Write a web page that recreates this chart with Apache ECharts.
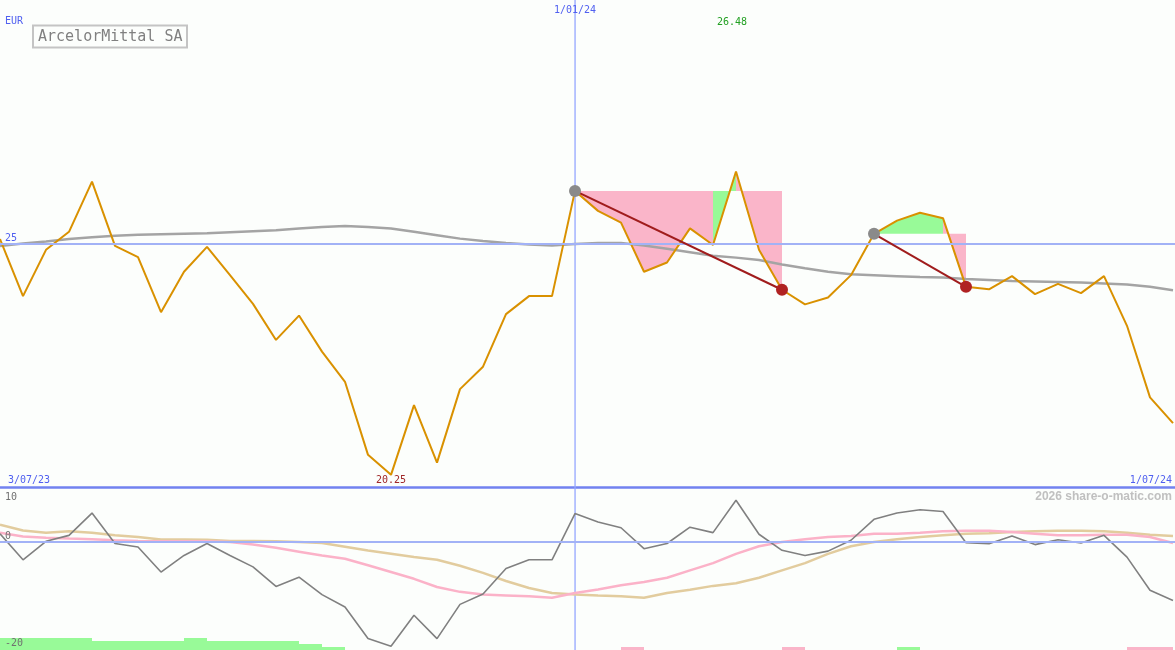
<!DOCTYPE html>
<html><head><meta charset="utf-8">
<script src="https://cdn.jsdelivr.net/npm/echarts@6/dist/echarts.min.js"></script>
<style>html,body{margin:0;padding:0;background:#fcfefc}#c{width:1175px;height:650px}</style>
</head><body><div id="c"></div>
<script>
// ---- data (weekly, index 0 = 3/07/23) ----
const price = [25.09, 23.92, 24.87, 25.24, 26.27, 24.95, 24.72, 23.59, 24.42, 24.93,
  24.35, 23.76, 23.02, 23.52, 22.78, 22.16, 20.66, 20.25, 21.68, 20.50,
  22.01, 22.47, 23.55, 23.92, 23.92, 26.08, 25.67, 25.43, 24.42, 24.61,
  25.31, 24.97, 26.48, 24.87, 24.05, 23.75, 23.89, 24.35, 25.20, 25.47,
  25.63, 25.52, 24.11, 24.06, 24.33, 23.96, 24.17, 23.98, 24.33, 23.31,
  21.84, 21.31];
const priceMA = [24.95, 25.00, 25.04, 25.09, 25.13, 25.16, 25.18, 25.19, 25.20, 25.21,
  25.23, 25.25, 25.27, 25.31, 25.34, 25.36, 25.34, 25.31, 25.24, 25.17,
  25.10, 25.05, 25.01, 24.98, 24.96, 24.99, 25.01, 25.01, 24.96, 24.89,
  24.82, 24.75, 24.71, 24.66, 24.57, 24.49, 24.42, 24.37, 24.35, 24.33,
  24.31, 24.30, 24.27, 24.25, 24.23, 24.22, 24.21, 24.20, 24.18, 24.16,
  24.11, 24.04];
const osc = [1.4, -3.4, 0, 1.1, 5.2, -0.4, -1.05, -5.65, -2.6, -0.4,
  -2.6, -4.7, -8.3, -6.6, -9.8, -12.1, -17.9, -19.3, -13.6, -17.9,
  -11.6, -9.7, -5.0, -3.4, -3.4, 5.1, 3.55, 2.5, -1.35, -0.4,
  2.6, 1.6, 7.55, 1.3, -1.65, -2.6, -1.8, 0.2, 4.05, 5.2,
  5.8, 5.5, -0.25, -0.45, 1.0, -0.6, 0.3, -0.3, 1.1, -2.9,
  -9.0, -10.9];
const oscFast = [1.6, 0.9, 0.65, 0.5, 0.4, 0.2, 0.05, 0, 0, 0,
  -0.13, -0.6, -1.2, -1.9, -2.6, -3.2, -4.4, -5.65, -6.9, -8.4,
  -9.3, -9.8, -9.95, -10.1, -10.4, -9.5, -8.85, -8.1, -7.5, -6.7,
  -5.35, -4.0, -2.3, -0.9, -0.13, 0.37, 0.8, 0.98, 1.4, 1.4,
  1.6, 1.84, 1.96, 1.96, 1.7, 1.4, 1.1, 1.1, 1.22, 1.22,
  0.8, -0.3];
const oscSlow = [3.05, 2.0, 1.6, 1.85, 1.6, 1.1, 0.8, 0.35, 0.35, 0.3,
  0.05, 0.05, 0, -0.1, -0.3, -1.0, -1.7, -2.3, -2.9, -3.4,
  -4.5, -5.8, -7.3, -8.6, -9.5, -9.77, -9.95, -10.1, -10.4, -9.5,
  -8.9, -8.2, -7.7, -6.7, -5.35, -4.0, -2.3, -0.9, -0.13, 0.37,
  0.8, 1.1, 1.4, 1.5, 1.7, 1.84, 1.96, 1.96, 1.84, 1.6,
  1.2, 1.0];
const greenBars = [[0,4],[1,4],[2,4],[3,4],[4,3],[5,3],[6,3],[7,3],[8,4],[9,3],[10,3],[11,3],[12,3],[13,2],[14,1],[39,1]];
const pinkBars = [[27,1],[34,1],[49,1],[50,1]];
const tradeEntry = [25, 38];
const tradeExit = [34, 42];
const greenSegments = [31, 38, 39, 40];
const dateLabels = ['3/07/23', '1/01/24', '1/07/24'];
const dateMidIndex = 25;
const mainTick = 25;
const lowerTicks = [10, 0, -20];
const title = 'ArcelorMittal SA';
const currency = 'EUR';
const credit = '2026 share-o-matic.com';

// ---- layout ----
const W = 1175, H = 650, MAIN_H = 487, LOW_H = 163, STEP = 23;
const X_MAX = W / STEP;
const FONT = '"DejaVu Sans Mono", "Liberation Mono", monospace';
const BLUE = '#5060f0', LBLUE = '#a2b2f6';

const chart = echarts.init(document.getElementById('c'), null, {renderer: 'canvas'});
const xy = a => a.map((v, i) => [i, v]);

const fillData = [];
tradeEntry.forEach((e, k) => {
  for (let i = e; i < tradeExit[k]; i++) fillData.push([i, i + 1, price[e], greenSegments.includes(i) ? 1 : 0]);
});
const tradeLines = tradeEntry.map((e, k) => [e, price[e], tradeExit[k], price[tradeExit[k]]]);

const barSeries = (data, color) => ({
  type: 'custom', xAxisIndex: 1, yAxisIndex: 2, z: 1, silent: true, data,
  renderItem: (p, api) => {
    const i = api.value(0), h = api.value(1);
    const a = api.coord([i, 0]), b = api.coord([i + 1, h]);
    return {type: 'rect', shape: {x: a[0], y: b[1], width: b[0] - a[0], height: a[1] - b[1]}, style: {fill: color}};
  }
});

chart.setOption({
  animation: false,
  backgroundColor: '#fcfefc',
  grid: [
    {left: 0, right: 0, top: 0, height: MAIN_H},
    {left: 0, right: 0, top: MAIN_H, height: LOW_H}
  ],
  xAxis: [
    {type: 'value', gridIndex: 0, min: 0, max: X_MAX, axisLabel: {show: false}, axisTick: {show: false}, splitLine: {show: false},
      axisLine: {show: true, onZero: false, lineStyle: {color: '#7282f0', width: 2.5}}},
    {type: 'value', gridIndex: 1, min: 0, max: X_MAX, show: false}
  ],
  yAxis: [
    {type: 'value', gridIndex: 0, min: 20, max: 30, show: false},
    {type: 'value', gridIndex: 1, min: -20, max: 10, show: false},
    {type: 'value', gridIndex: 1, min: 0, max: LOW_H / 3, show: false}
  ],
  series: [
    {type: 'line', xAxisIndex: 0, yAxisIndex: 0, data: [], z: 1, silent: true,
      markLine: {silent: true, symbol: 'none', label: {show: false}, animation: false,
        lineStyle: {color: LBLUE, width: 2, type: 'solid'},
        data: [{yAxis: mainTick}]}},
    {type: 'custom', xAxisIndex: 0, yAxisIndex: 0, z: 2, silent: true, data: fillData, clip: true,
      renderItem: (p, api) => {
        const i0 = api.value(0), i1 = api.value(1), lvl = api.value(2), g = api.value(3);
        const pts = [api.coord([i0, lvl]), api.coord([i0, price[i0]]), api.coord([i1, price[i1]]), api.coord([i1, lvl])];
        return {type: 'polygon', shape: {points: pts}, style: {fill: g ? '#98fa98' : '#fab5c9', stroke: null}};
      }},
    {type: 'line', xAxisIndex: 0, yAxisIndex: 0, z: 3, data: xy(priceMA), showSymbol: false, silent: true,
      lineStyle: {color: '#a4a4a4', width: 2.5}},
    {type: 'line', xAxisIndex: 0, yAxisIndex: 0, z: 4, data: xy(price), showSymbol: false, silent: true,
      lineStyle: {color: '#d99100', width: 2}},
    {type: 'custom', xAxisIndex: 0, yAxisIndex: 0, z: 5, silent: true, data: tradeLines,
      renderItem: (p, api) => {
        const a = api.coord([api.value(0), api.value(1)]), b = api.coord([api.value(2), api.value(3)]);
        return {type: 'line', shape: {x1: a[0], y1: a[1], x2: b[0], y2: b[1]}, style: {stroke: '#a01c1c', lineWidth: 2}};
      }},
    {type: 'scatter', xAxisIndex: 0, yAxisIndex: 0, z: 6, silent: true, symbolSize: 12,
      data: tradeEntry.map(i => [i, price[i]]), itemStyle: {color: '#8a8a8a', opacity: 1}},
    {type: 'scatter', xAxisIndex: 0, yAxisIndex: 0, z: 6, silent: true, symbolSize: 12,
      data: tradeExit.map(i => [i, price[i]]), itemStyle: {color: '#b02222', opacity: 1}},
    // lower panel
    {type: 'line', xAxisIndex: 1, yAxisIndex: 1, data: [], z: 1, silent: true,
      markLine: {silent: true, symbol: 'none', label: {show: false}, animation: false,
        lineStyle: {color: LBLUE, width: 2, type: 'solid'},
        data: [{yAxis: 0}]}},
    barSeries(greenBars, '#98fa98'),
    barSeries(pinkBars, '#fab5c9'),
    {type: 'line', xAxisIndex: 1, yAxisIndex: 1, z: 3, data: xy(oscSlow), showSymbol: false, silent: true,
      lineStyle: {color: '#e2cc9e', width: 2.5}},
    {type: 'line', xAxisIndex: 1, yAxisIndex: 1, z: 3, data: xy(oscFast), showSymbol: false, silent: true,
      lineStyle: {color: '#fbb2c8', width: 2.5}},
    {type: 'line', xAxisIndex: 1, yAxisIndex: 1, z: 4, data: xy(osc), showSymbol: false, silent: true,
      lineStyle: {color: '#808080', width: 1.6}}
  ]
});

// ---- text labels and date cursor placed via the chart's own scales ----
const p0 = v => chart.convertToPixel({xAxisIndex: 0, yAxisIndex: 0}, v);
const p1 = v => chart.convertToPixel({xAxisIndex: 1, yAxisIndex: 1}, v);
const txt = (text, x, y, color, align, size, extra) => ({
  type: 'text', x, y: y + 1, silent: true, z: 100,
  style: Object.assign({text, fill: color, font: (size || 10) + 'px ' + FONT, textAlign: align || 'left', textVerticalAlign: 'middle'}, extra || {})
});
const maxI = price.indexOf(Math.max(...price));
const minI = price.indexOf(Math.min(...price));
const cursorX = Math.round(p0([dateMidIndex, 25])[0]);
const elements = [
  {type: 'rect', silent: true, z: 1, shape: {x: cursorX - 0.6, y: 0, width: 1.3, height: H},
    style: {fill: '#94a6ff'}},
  txt(currency, 5, 20, BLUE),
  txt(String(mainTick), 5, p0([0, mainTick])[1] - 6, BLUE),
  txt(dateLabels[1], p0([dateMidIndex, 30])[0], 9, BLUE, 'center'),
  txt(price[maxI].toFixed(2), p0([maxI, 30])[0] - 4, 21, '#22a022', 'center'),
  txt(dateLabels[0], p0([0, 20])[0] + 8, p0([0, 20])[1] - 8, BLUE),
  txt(price[minI].toFixed(2), p0([minI, 20])[0], p0([minI, 20])[1] - 8, '#a02828', 'center'),
  txt(dateLabels[2], p0([X_MAX, 20])[0] - 3, p0([X_MAX, 20])[1] - 8, BLUE, 'right'),
  txt(String(lowerTicks[0]), 5, p1([0, lowerTicks[0]])[1] + 9, '#707070'),
  txt(String(lowerTicks[1]), 5, p1([0, lowerTicks[1]])[1] - 6, '#707070'),
  txt(String(lowerTicks[2]), 5, p1([0, lowerTicks[2]])[1] - 8, '#707070'),
  txt(credit, W - 3, MAIN_H + 9, '#c0c0c0', 'right', 11.6, {fontWeight: 'bold'}),
  {type: 'rect', silent: true, z: 100, shape: {x: 33, y: 25.5, width: 154, height: 22},
    style: {fill: 'none', stroke: '#c4c4c4', lineWidth: 2}},
  txt(title, 38, 36.5, '#808080', 'left', 15)
];
chart.setOption({graphic: {elements}});
</script>
</body></html>
